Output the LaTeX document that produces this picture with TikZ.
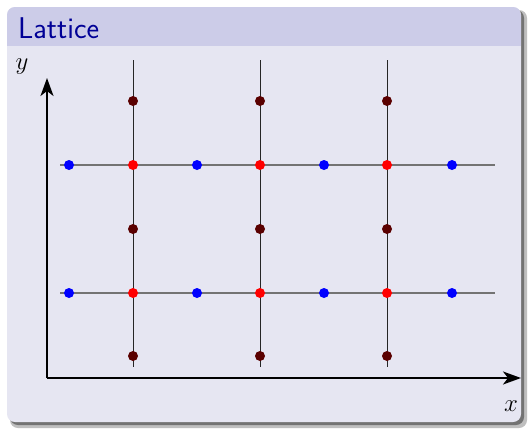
\documentclass[tikz,border=0pt]{standalone}
\usepackage{fontspec}
\usetikzlibrary{arrows.meta}
\definecolor{hdr}{RGB}{204,204,232}
\definecolor{bdy}{RGB}{230,230,242}
\definecolor{ttl}{RGB}{0,0,150}
\definecolor{dred}{RGB}{90,0,0}
\tikzset{
  dotd/.style={circle,fill=dred,inner sep=0pt,minimum size=10pt},
  dotr/.style={circle,fill=red,inner sep=0pt,minimum size=10pt},
  dotb/.style={circle,fill=blue,inner sep=0pt,minimum size=10pt},
  vline/.style={draw=black!85,line width=1pt},
  hline/.style={draw=black!55,line width=1.2pt},
  axis/.style={draw=black,line width=2pt,-{Stealth[length=18pt,width=13pt,inset=5pt]}},
}
\begin{document}
\begin{tikzpicture}[x=1pt,y=-1pt]
\useasboundingbox (0,0) rectangle (530,429);
\fill[white] (0,0) rectangle (530,429);
% shadow
\fill[black!25,rounded corners=8pt] (10,10) rectangle (527,428);
\fill[black!55,rounded corners=8pt] (10,10) rectangle (524,425);
% block
\fill[bdy,rounded corners=8pt] (7,7) rectangle (521,422);
\begin{scope}
\clip[rounded corners=8pt] (7,7) rectangle (521,80);
\fill[hdr] (7,7) rectangle (521,46);
\end{scope}
\node[anchor=west,text=ttl,font=\sffamily\fontsize{30}{36}\selectfont,inner sep=0pt] (title) at (18,28) {Lattice};
% grid lines
\coordinate (v1t) at (133,60); \coordinate (v1b) at (133,367);
\coordinate (v2t) at (260,60); \coordinate (v2b) at (260,367);
\coordinate (v3t) at (387,60); \coordinate (v3b) at (387,367);
\coordinate (h1l) at (60,165); \coordinate (h1r) at (495,165);
\coordinate (h2l) at (60,293); \coordinate (h2r) at (495,293);
\draw[hline] (h1l) -- (h1r);
\draw[hline] (h2l) -- (h2r);
\draw[vline] (v1t) -- (v1b);
\draw[vline] (v2t) -- (v2b);
\draw[vline] (v3t) -- (v3b);
% axes
\coordinate (o) at (47,378);
\coordinate (xe) at (521,378);
\coordinate (ye) at (47,78);
\draw[axis] (o) -- (xe);
\draw[axis] (o) -- (ye);
\node[font=\fontsize{29}{34}\selectfont] (ylab) at (22,67) {$y$};
\node[font=\fontsize{29}{34}\selectfont] (xlab) at (511,406) {$x$};
% dots
\foreach \i/\xx in {1/133,2/260,3/387}{
  \foreach \j/\yy in {1/101,2/229,3/356}{
    \node[dotd] (d\i\j) at (\xx,\yy) {};
  }
  \node[dotr] (r\i1) at (\xx,165) {};
  \node[dotr] (r\i2) at (\xx,293) {};
}
\foreach \i/\xx in {1/69,2/197,3/324,4/452}{
  \node[dotb] (b\i1) at (\xx,165) {};
  \node[dotb] (b\i2) at (\xx,293) {};
}
\end{tikzpicture}
\end{document}
